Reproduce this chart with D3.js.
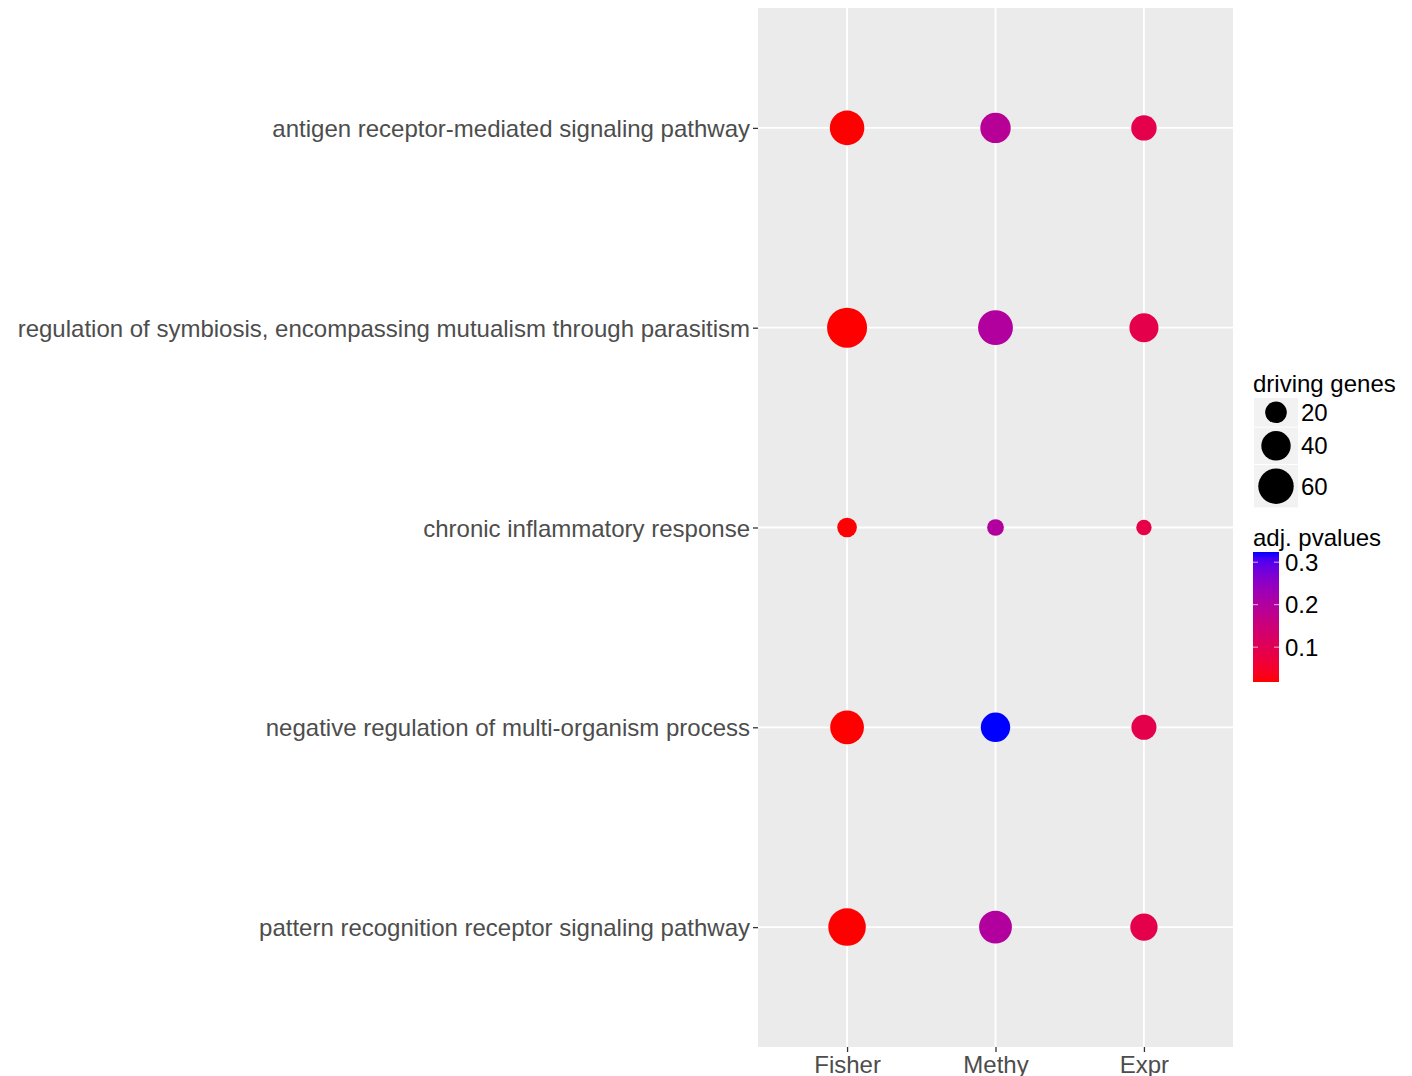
<!DOCTYPE html>
<html>
<head>
<meta charset="utf-8">
<script src="https://cdn.jsdelivr.net/npm/d3@7"></script>
<style>
  html, body { margin: 0; padding: 0; background: #fff; }
  svg { display: block; font-family: "Liberation Sans", Arial, sans-serif; }
</style>
</head>
<body>
<svg id="chart" width="1412" height="1076"></svg>
<script>
// GO terms (top to bottom) and the three methods on the x axis
const terms = [
  "antigen receptor-mediated signaling pathway",
  "regulation of symbiosis, encompassing mutualism through parasitism",
  "chronic inflammatory response",
  "negative regulation of multi-organism process",
  "pattern recognition receptor signaling pathway"
];
const methods = ["Fisher", "Methy", "Expr"];

// number of driving genes per term, one array per method
const genesFisher = [57, 78, 16, 54, 68];
const genesMethy  = [43, 58, 11, 40, 51];
const genesExpr   = [29, 39, 9, 28, 34];

// adjusted p-values per term, one array per method
const pFisher = [0.018, 0.018, 0.02, 0.018, 0.018];
const pMethy  = [0.19, 0.2, 0.2, 0.324, 0.2];
const pExpr   = [0.09, 0.09, 0.085, 0.09, 0.09];

// legend breaks
const sizeBreaks = [20, 40, 60];
const colorBreaks = [0.1, 0.2, 0.3];

const FONT = "24px";

const rows = [];
terms.forEach((t, i) => {
  rows.push({ term: t, method: "Fisher", genes: genesFisher[i], p: pFisher[i] });
  rows.push({ term: t, method: "Methy",  genes: genesMethy[i],  p: pMethy[i] });
  rows.push({ term: t, method: "Expr",   genes: genesExpr[i],   p: pExpr[i] });
});

const svg = d3.select("#chart");
const panel = { left: 758, right: 1233, top: 8, bottom: 1047 };

const x = d3.scalePoint().domain(methods).range([panel.left, panel.right]).padding(0.6);
const y = d3.scalePoint().domain(terms).range([panel.top, panel.bottom]).padding(0.6);

// point radius grows with sqrt of gene count
const r = d3.scaleSqrt().domain([0, 100]).range([1.38, 22.45]);

const allP = rows.map(d => d.p);
const pExtent = d3.extent(allP);
const color = d3.scaleLinear().domain(pExtent).range(["#ff0000", "#0000ff"])
  .interpolate(d3.interpolateLab);

// panel background
svg.append("rect")
  .attr("x", panel.left).attr("y", panel.top)
  .attr("width", panel.right - panel.left).attr("height", panel.bottom - panel.top)
  .attr("fill", "#ebebeb");

// grid lines
const grid = svg.append("g").attr("stroke", "#ffffff").attr("stroke-width", 1.8);
grid.selectAll("line.v").data(methods).join("line")
  .attr("x1", d => x(d)).attr("x2", d => x(d))
  .attr("y1", panel.top).attr("y2", panel.bottom);
grid.selectAll("line.h").data(terms).join("line")
  .attr("x1", panel.left).attr("x2", panel.right)
  .attr("y1", d => y(d)).attr("y2", d => y(d));

// axes
const yAxis = svg.append("g")
  .attr("transform", `translate(${panel.left},0)`)
  .call(d3.axisLeft(y).tickSize(5).tickPadding(3));
const xAxis = svg.append("g")
  .attr("transform", `translate(0,${panel.bottom})`)
  .call(d3.axisBottom(x).tickSize(5).tickPadding(3));
[yAxis, xAxis].forEach(g => {
  g.select(".domain").remove();
  g.selectAll(".tick line").attr("stroke", "#333333").attr("stroke-width", 1.3);
  g.selectAll(".tick text")
    .attr("fill", "#4d4d4d")
    .style("font-size", FONT)
    .style("font-family", "'Liberation Sans', Arial, sans-serif");
});
yAxis.selectAll(".tick text").attr("dy", "0.36em");
xAxis.selectAll(".tick text").attr("dy", "0.76em");

// points
svg.append("g").selectAll("circle").data(rows).join("circle")
  .attr("cx", d => x(d.method))
  .attr("cy", d => y(d.term))
  .attr("r", d => r(d.genes))
  .attr("fill", d => color(d.p));

// size legend
const lg = svg.append("g").attr("transform", "translate(1253,0)");
lg.append("text").attr("x", 0).attr("y", 392)
  .style("font-size", FONT).attr("fill", "#000").text("driving genes");
const keyW = 44;
let ky = 398;
sizeBreaks.forEach(v => {
  const h = Math.max(26, 2 * r(v) + 7);
  lg.append("rect").attr("x", 1).attr("y", ky).attr("width", keyW).attr("height", h)
    .attr("fill", "#f2f2f2");
  lg.append("circle").attr("cx", 1 + keyW / 2).attr("cy", ky + h / 2).attr("r", r(v))
    .attr("fill", "#000");
  lg.append("text").attr("x", 48).attr("y", ky + h / 2).attr("dy", "0.36em")
    .style("font-size", FONT).attr("fill", "#000").text(v);
  ky += h + 1;
});

// colour bar legend
const cbTop = 552, cbBottom = 682, cbX = 1253, cbW = 26;
lg.append("text").attr("x", 0).attr("y", 546)
  .style("font-size", FONT).attr("fill", "#000").text("adj. pvalues");
const cy = d3.scaleLinear().domain(pExtent).range([cbBottom, cbTop]);
const defs = svg.append("defs");
const grad = defs.append("linearGradient").attr("id", "pgrad")
  .attr("x1", 0).attr("x2", 0).attr("y1", 1).attr("y2", 0);
d3.range(0, 1.0001, 0.05).forEach(t => {
  grad.append("stop").attr("offset", t)
    .attr("stop-color", color(pExtent[0] + t * (pExtent[1] - pExtent[0])));
});
svg.append("rect").attr("x", cbX).attr("y", cbTop).attr("width", cbW)
  .attr("height", cbBottom - cbTop).attr("fill", "url(#pgrad)");
const cbTicks = svg.append("g");
colorBreaks.forEach(v => {
  const yy = cy(v);
  cbTicks.append("line").attr("x1", cbX).attr("x2", cbX + 5).attr("y1", yy).attr("y2", yy)
    .attr("stroke", "#ffffff").attr("stroke-width", 1).attr("opacity", 0.7);
  cbTicks.append("line").attr("x1", cbX + cbW - 5).attr("x2", cbX + cbW).attr("y1", yy).attr("y2", yy)
    .attr("stroke", "#ffffff").attr("stroke-width", 1).attr("opacity", 0.7);
  cbTicks.append("text").attr("x", cbX + cbW + 6).attr("y", yy).attr("dy", "0.36em")
    .style("font-size", FONT).attr("fill", "#000").text(v.toFixed(1));
});
</script>
</body>
</html>
